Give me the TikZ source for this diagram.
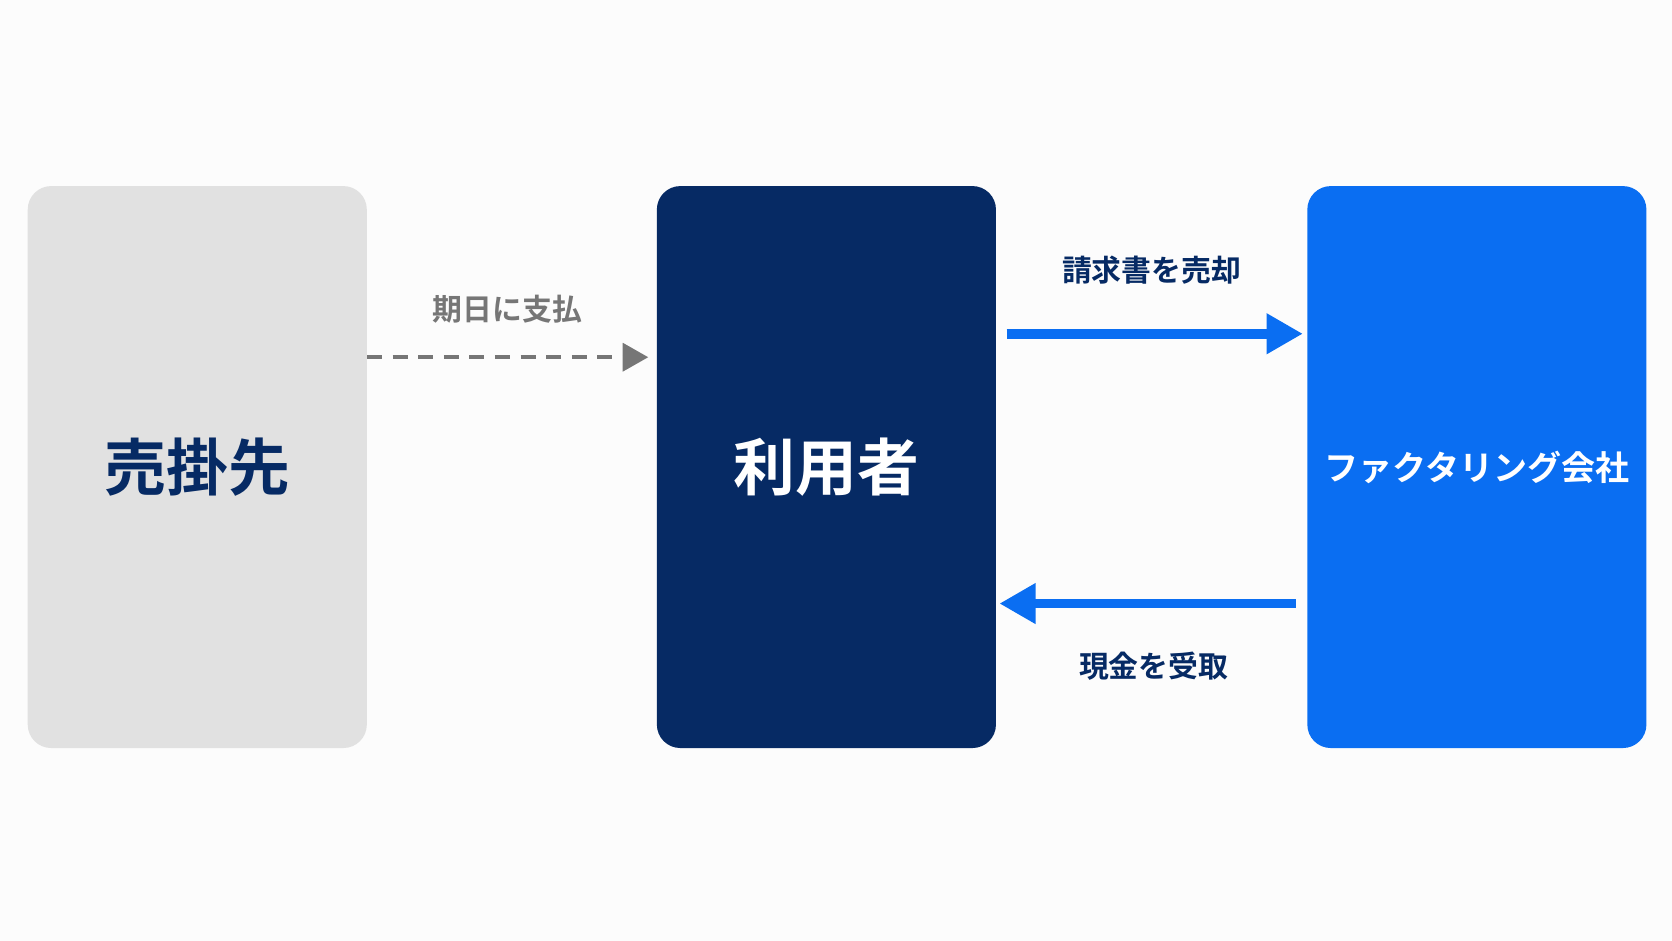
\documentclass[tikz,border=0pt]{standalone}
\usepackage{fontspec}
\setmainfont{Noto Sans CJK JP}[BoldFont={Noto Sans CJK JP Bold}]
\usetikzlibrary{arrows.meta, positioning}
\definecolor{boxgray}{HTML}{E1E1E1}
\definecolor{navy}{HTML}{062A64}
\definecolor{brightblue}{HTML}{0A6EF2}
\definecolor{labelgray}{HTML}{767676}
\tikzset{
	card/.style={rounded corners=22pt, text width=318pt, align=center, minimum height=527pt, inner sep=0pt,
		font=\fontsize{58}{60}\selectfont\bfseries},
	flow/.style={line width=9pt, brightblue, -{Triangle[length=34pt,width=36pt]}},
	tag/.style={font=\fontsize{28}{30}\selectfont\bfseries, text=navy}
}
\begin{document}
\begin{tikzpicture}[x=1pt, y=-1pt]
	\fill[white!98!gray] (0,0) rectangle (1568,882);
	\useasboundingbox (0,0) rectangle (1568,882);

	\node[card, fill=boxgray, text=navy] (debtor) at (185,438) {売掛先};
	\node[card, fill=navy, text=white] (user) at (775,438) {利用者};
	\node[card, fill=brightblue, text=white, font=\fontsize{52}{54}\selectfont\bfseries] (factor) at (1385,438)
		{\resizebox{286pt}{!}{ファクタリング会社}};

	% dashed payment
	\coordinate (payend) at (608,335);
	\draw[line width=4pt, labelgray, dash pattern=on 14pt off 10pt, -{Triangle[length=24pt,width=26pt]}]
		(debtor.east |- payend) -- (payend);
	\node[tag, text=labelgray] (paylabel) at (476,290) {期日に支払};

	% invoice sale and cash
	\coordinate (sellstart) at (944,313);
	\coordinate (cashstart) at (1215,566);
	\draw[flow] (sellstart) -- ([xshift=-4pt]factor.west |- sellstart);
	\draw[flow] (cashstart) -- ([xshift=3pt]user.east |- cashstart);
	\node[tag] (selllabel) at (1080,253) {請求書を売却};
	\node[tag] (cashlabel) at (1082,625) {現金を受取};
\end{tikzpicture}
\end{document}
